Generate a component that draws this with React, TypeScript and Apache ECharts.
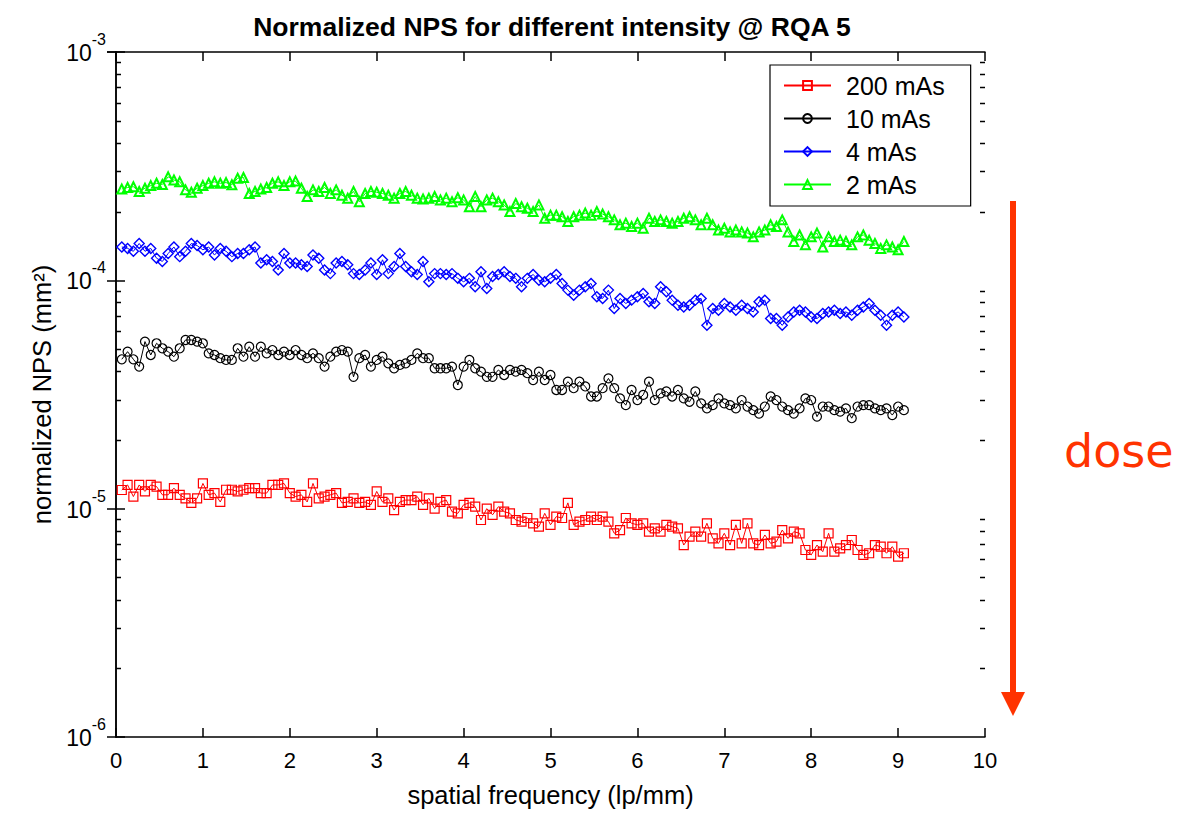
import React, { useEffect, useRef } from "react";
import * as echarts from "echarts";

// spatial frequency sample spacing (lp/mm); sample k sits at k * FREQ_STEP, k = 1..136
const FREQ_STEP = 1 / 15;
// all NPS values below are in units of 1e-6 mm^2
const NPS_UNIT = 1e-6;

const NPS_200MAS = [
  12.07, 12.7, 11.3, 12.7, 11.9, 12.7, 12.5, 11.5, 11.5, 12.3,
  11.5, 11.1, 10.6, 11.1, 12.9, 11.5, 11.7, 10.7, 12.1, 12.1,
  11.9, 12.1, 12.3, 12.3, 11.7, 11.7, 12.7, 12.7, 12.9, 11.7,
  11.3, 11.5, 10.7, 12.9, 11.1, 11.3, 11.5, 11.7, 10.6, 10.7,
  11.1, 10.6, 10.7, 10.4, 11.9, 10.7, 11.1, 9.86, 10.7, 10.9,
  10.9, 11.3, 10.4, 11.1, 10.0, 10.7, 10.9, 9.7, 9.54, 10.4,
  10.6, 10.2, 8.92, 10.0, 9.4, 10.2, 9.7, 9.54, 8.92, 8.78,
  9.1, 8.63, 8.34, 9.54, 8.5, 9.23, 9.1, 10.6, 8.5, 8.78,
  8.92, 9.23, 8.92, 9.23, 8.78, 7.8, 8.06, 9.1, 8.63, 8.5,
  8.63, 7.93, 8.2, 7.93, 8.5, 8.34, 8.2, 6.93, 7.54, 7.93,
  7.54, 8.63, 7.41, 7.05, 7.8, 6.93, 8.5, 7.05, 8.63, 7.05,
  6.93, 7.67, 7.05, 7.17, 8.06, 7.41, 7.93, 7.8, 6.59, 6.27,
  6.93, 6.48, 7.8, 6.48, 6.7, 6.93, 7.29, 6.59, 6.27, 6.38,
  6.93, 6.82, 6.38, 6.82, 6.17, 6.38,
];

const NPS_10MAS = [
  45.1, 48.7, 45.1, 41.9, 53.9, 47.1, 53.0, 50.4, 48.7, 46.3,
  50.4, 54.8, 54.8, 53.9, 53.0, 47.9, 47.1, 45.6, 44.8, 44.8,
  50.4, 46.3, 51.2, 46.3, 51.2, 47.9, 49.5, 47.1, 48.7, 47.1,
  49.5, 47.1, 45.6, 47.9, 45.6, 41.9, 46.3, 48.7, 49.5, 48.7,
  37.8, 45.6, 47.1, 41.9, 44.8, 46.3, 43.3, 41.2, 42.6, 43.3,
  44.8, 47.9, 45.6, 45.6, 41.2, 41.2, 41.2, 41.9, 34.8, 41.9,
  44.8, 41.2, 39.8, 37.8, 37.8, 40.5, 38.5, 40.5, 39.8, 40.5,
  39.2, 36.6, 39.8, 36.6, 38.5, 33.1, 33.1, 36.0, 33.7, 36.0,
  34.3, 31.0, 31.0, 33.7, 37.2, 33.7, 30.4, 28.4, 33.1, 29.9,
  31.5, 36.0, 29.9, 32.0, 32.6, 31.0, 33.1, 30.4, 29.4, 32.6,
  28.9, 27.5, 28.4, 30.4, 28.9, 28.4, 27.5, 29.9, 28.0, 27.0,
  26.1, 28.0, 31.0, 29.9, 28.0, 27.0, 26.1, 27.5, 30.4, 29.9,
  25.3, 28.0, 28.0, 27.0, 26.6, 27.5, 24.9, 28.0, 28.4, 28.4,
  27.5, 27.0, 27.5, 25.7, 28.0, 27.0,
];

const NPS_4MAS = [
  140, 138, 134, 145, 134, 138, 125, 121, 131, 140,
  127, 134, 145, 142, 136, 140, 129, 138, 134, 127,
  131, 131, 136, 140, 119, 123, 121, 111, 131, 119,
  119, 117, 115, 129, 125, 111, 107, 119, 121, 117,
  107, 106, 111, 119, 106, 123, 107, 115, 131, 115,
  109, 106, 121, 98.6, 107, 107, 106, 107, 102, 98.6,
  102, 93.7, 109, 92.2, 104, 106, 109, 104, 102, 93.7,
  102, 106, 100, 98.6, 102, 106, 96.9, 90.6, 86.1, 90.6,
  93.7, 96.9, 84.7, 83.3, 90.6, 75.2, 83.3, 79.2, 81.9, 84.7,
  87.6, 80.5, 79.2, 93.7, 89.1, 81.9, 77.8, 76.5, 77.8, 81.9,
  83.3, 63.5, 75.2, 74.0, 79.2, 76.5, 74.0, 77.8, 75.2, 72.7,
  80.5, 81.9, 68.0, 68.0, 63.5, 69.1, 72.7, 74.0, 72.7, 69.1,
  68.0, 71.5, 72.7, 74.0, 71.5, 72.7, 70.3, 74.0, 76.5, 79.2,
  74.0, 70.3, 63.5, 70.3, 72.7, 69.1,
];

const NPS_2MAS = [
  251, 255, 257, 245, 253, 260, 266, 263, 284, 275,
  270, 249, 243, 253, 260, 266, 270, 266, 268, 262,
  280, 282, 240, 245, 251, 255, 266, 270, 260, 270,
  272, 253, 233, 249, 245, 255, 240, 249, 236, 229,
  245, 221, 240, 245, 243, 240, 236, 229, 240, 245,
  236, 229, 227, 229, 233, 225, 229, 221, 230, 225,
  210, 233, 210, 225, 229, 221, 214, 200, 217, 210,
  207, 200, 214, 187, 193, 193, 190, 181, 190, 193,
  197, 193, 200, 195, 190, 184, 175, 178, 172, 178,
  169, 187, 181, 184, 181, 178, 181, 187, 190, 184,
  175, 187, 175, 166, 169, 163, 166, 163, 161, 155,
  163, 166, 175, 172, 184, 163, 148, 158, 143, 155,
  161, 140, 155, 148, 150, 148, 143, 155, 158, 150,
  145, 138, 143, 140, 136, 148,
];

const SERIES_NAMES = ["200 mAs", "10 mAs", "4 mAs", "2 mAs"];
const SERIES_VALUES = [NPS_200MAS, NPS_10MAS, NPS_4MAS, NPS_2MAS];
const SERIES_COLORS = ["#ff0000", "#000000", "#0000ff", "#00ff00"];
const SERIES_SYMBOLS = ["rect", "circle", "diamond", "triangle"];
const SERIES_SYMBOL_SIZES = [9, 9, 10, 9];
const SERIES_BORDER_WIDTHS = [1.2, 1.2, 1.4, 2];

const X_MIN = 0;
const X_MAX = 10;
const Y_MIN = 1e-6;
const Y_MAX = 1e-3;
const MINOR_TICKS = [
  2e-6, 3e-6, 4e-6, 5e-6, 6e-6, 7e-6, 8e-6, 9e-6,
  2e-5, 3e-5, 4e-5, 5e-5, 6e-5, 7e-5, 8e-5, 9e-5,
  2e-4, 3e-4, 4e-4, 5e-4, 6e-4, 7e-4, 8e-4, 9e-4,
];

const FONT = "'Liberation Sans', Arial, sans-serif";

export default function App() {
  const ref = useRef<HTMLDivElement>(null);

  useEffect(() => {
    if (!ref.current) return;
    const chart = echarts.init(ref.current, undefined, { renderer: "svg" });

    const lineSeries = SERIES_NAMES.map((name, s) => ({
      name,
      type: "line",
      xAxisIndex: 0,
      yAxisIndex: 0,
      data: SERIES_VALUES[s].map((v, k) => [(k + 1) * FREQ_STEP, v * NPS_UNIT]),
      symbol: SERIES_SYMBOLS[s],
      symbolSize: SERIES_SYMBOL_SIZES[s],
      showSymbol: true,
      showAllSymbol: true,
      color: SERIES_COLORS[s],
      lineStyle: { color: SERIES_COLORS[s], width: 1 },
      itemStyle: {
        color: "rgba(255,255,255,0)",
        borderColor: SERIES_COLORS[s],
        borderWidth: SERIES_BORDER_WIDTHS[s],
      },
      emphasis: { disabled: true },
      z: 3,
    }));

    const tickLen = 5;
    const tickStyle = { stroke: "#000", lineWidth: 1.5 };
    const minorSeries = {
      name: "minorTicks",
      type: "custom",
      xAxisIndex: 0,
      yAxisIndex: 0,
      silent: true,
      clip: false,
      data: MINOR_TICKS.map((v) => [X_MIN, v]),
      encode: { x: 0, y: 1 },
      renderItem: (_params: any, api: any) => {
        const v = api.value(1);
        const l = api.coord([X_MIN, v]);
        const r = api.coord([X_MAX, v]);
        const y = Math.round(l[1]) + 0.5;
        return {
          type: "group",
          children: [
            {
              type: "line",
              shape: { x1: l[0], y1: y, x2: l[0] + tickLen, y2: y },
              style: tickStyle,
            },
            {
              type: "line",
              shape: { x1: r[0] - tickLen, y1: y, x2: r[0], y2: y },
              style: tickStyle,
            },
          ],
        };
      },
      z: 5,
    };

    const expLabel = (v: number) => {
      const e = Math.round(Math.log10(v));
      return `{b|10}{s|${e}}`;
    };

    const axisLineStyle = { show: true, lineStyle: { color: "#000", width: 1.5 } };
    const majorTick = { show: true, inside: true, length: 9, lineStyle: { color: "#000", width: 1.5 } };

    chart.setOption({
      animation: false,
      backgroundColor: "#ffffff",
      textStyle: { fontFamily: FONT },
      title: {
        text: "Normalized NPS for different intensity @ RQA 5",
        left: 547,
        top: 8,
        textAlign: "center",
        textStyle: { fontFamily: FONT, fontWeight: "bold", fontSize: 26.5, color: "#000" },
      },
      legend: {
        data: SERIES_NAMES,
        orient: "vertical",
        left: 770,
        top: 65,
        padding: [8, 26, 9, 13],
        itemWidth: 47,
        itemHeight: 11,
        itemGap: 8,
        borderColor: "#000",
        borderWidth: 1.2,
        backgroundColor: "#ffffff",
        selectedMode: false,
        textStyle: {
          fontFamily: FONT,
          fontSize: 25,
          color: "#000",
          lineHeight: 24,
          padding: [0, 0, 0, 10],
        },
      },
      grid: { left: 116, top: 52, width: 869, height: 685, containLabel: false },
      xAxis: [
        {
          type: "value",
          position: "bottom",
          min: X_MIN,
          max: X_MAX,
          interval: 1,
          axisLine: axisLineStyle,
          axisTick: majorTick,
          axisLabel: { fontFamily: FONT, fontSize: 22, color: "#000", margin: 12 },
          splitLine: { show: false },
          name: "spatial frequency (lp/mm)",
          nameLocation: "middle",
          nameGap: 45,
          nameTextStyle: { fontFamily: FONT, fontSize: 25.5, color: "#000" },
        },
        {
          type: "value",
          position: "top",
          min: X_MIN,
          max: X_MAX,
          interval: 1,
          axisLine: axisLineStyle,
          axisTick: majorTick,
          axisLabel: { show: false },
          splitLine: { show: false },
        },
      ],
      yAxis: [
        {
          type: "log",
          logBase: 10,
          position: "left",
          min: Y_MIN,
          max: Y_MAX,
          axisLine: axisLineStyle,
          axisTick: majorTick,
          axisLabel: {
            formatter: expLabel,
            margin: 10,
            fontSize: 23,
            fontFamily: FONT,
            color: "#000",
            padding: [2, 0, 0, 0],
            rich: {
              b: { fontFamily: FONT, fontSize: 23, lineHeight: 23, color: "#000", verticalAlign: "bottom" },
              s: {
                fontFamily: FONT,
                fontSize: 16,
                lineHeight: 16,
                color: "#000",
                verticalAlign: "bottom",
                padding: [0, 0, 17, 0],
              },
            },
          },
          splitLine: { show: false },
          minorTick: { show: false },
          name: "normalized NPS (mm²)",
          nameLocation: "middle",
          nameGap: 34,
          nameRotate: 90,
          nameTextStyle: { fontFamily: FONT, fontSize: 25.5, color: "#000" },
        },
        {
          type: "log",
          logBase: 10,
          position: "right",
          min: Y_MIN,
          max: Y_MAX,
          axisLine: axisLineStyle,
          axisTick: majorTick,
          axisLabel: { show: false },
          splitLine: { show: false },
        },
      ],
      series: [...lineSeries, minorSeries],
      graphic: [
        {
          type: "line",
          shape: { x1: 1013, y1: 201, x2: 1013, y2: 694 },
          style: { stroke: "#ff3300", lineWidth: 6 },
          silent: true,
        },
        {
          type: "polygon",
          shape: { points: [[1001, 692], [1025, 692], [1013, 716]] },
          style: { fill: "#ff3300" },
          silent: true,
        },
        {
          type: "text",
          left: 1064,
          top: 428,
          style: {
            text: "dose",
            fill: "#ff3300",
            fontSize: 46,
            fontFamily: "'Comic Sans MS', 'DejaVu Sans', sans-serif",
          },
          silent: true,
        },
      ],
    });

    return () => chart.dispose();
  }, []);

  return (
    <div
      ref={ref}
      style={{ position: "absolute", left: 0, top: 0, width: 1182, height: 815 }}
    />
  );
}
